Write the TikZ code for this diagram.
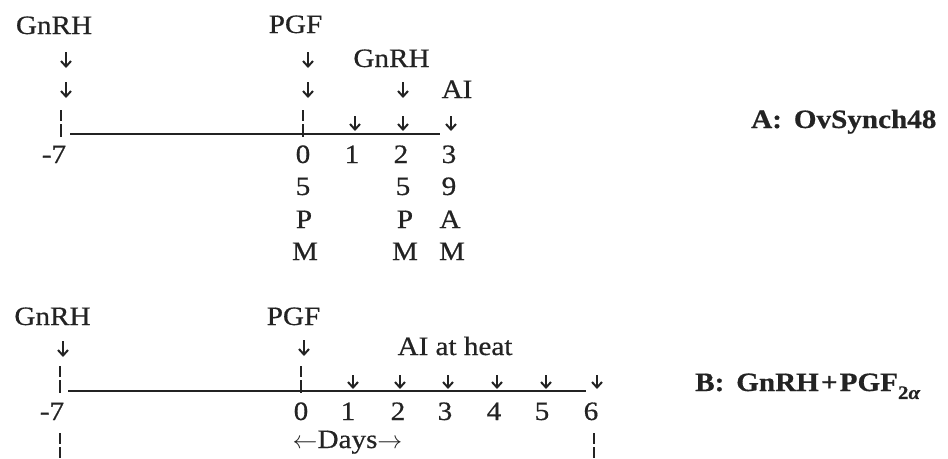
\documentclass[tikz,border=0pt]{standalone}
\usepackage{fontspec}
\setmainfont{Liberation Serif}[FakeStretch=1.1,FakeBold=0.6]
\usetikzlibrary{arrows.meta}
\definecolor{ink}{RGB}{35,35,35}
\begin{document}
\begin{tikzpicture}[x=1pt,y=-1pt,
  txt/.style={anchor=base, inner sep=0pt, text=ink, font=\fontsize{26.5}{30}\selectfont},
  lbl/.style={anchor=base west, inner sep=0pt, text=ink, font=\fontsize{26.5}{30}\selectfont\bfseries},
  darr/.style={draw=ink, line width=2pt, -{Straight Barb[length=5.5pt,width=10pt,line width=2pt]}},
  tickd/.style={draw=ink, line width=1.5pt, dash pattern=on 11pt off 3pt on 30pt},
  axisline/.style={draw=ink, line width=2pt}]
\useasboundingbox (0,0) rectangle (948,458);

% ---------- Panel A ----------
\node[txt] (gA1) at (54,34) {GnRH};
\node[txt] (pA)  at (295.5,33) {PGF};
\node[txt] (gA2) at (391.5,67) {GnRH};
\node[txt] (aiA) at (457,98) {AI};

\draw[darr] (66,52) -- (66,68);
\draw[darr] (66,82) -- (66,98);
\draw[darr] (308,52) -- (308,68);
\draw[darr] (308,82) -- (308,98);
\draw[darr] (403,82) -- (403,98);
\draw[darr] (355,116) -- (355,131);
\draw[darr] (403,116) -- (403,131);
\draw[darr] (451,116) -- (451,131);

\draw[tickd] (61,110) -- (61,137);
\draw[tickd] (303,110) -- (303,137);
\coordinate (As) at (70,134);
\coordinate (Ae) at (440,134);
\draw[axisline] (As) -- (Ae);

\node[txt] (aM7) at (54,163) {-7};
\node[txt] (a0) at (303,163) {0};
\node[txt] (a1) at (352,163) {1};
\node[txt] (a2) at (401,163) {2};
\node[txt] (a3) at (449,163) {3};

\node[txt] (c05) at (303,195) {5};
\node[txt] (c0P) at (304,228) {P};
\node[txt] (c0M) at (305,260) {M};
\node[txt] (c25) at (403,195) {5};
\node[txt] (c2P) at (405,228) {P};
\node[txt] (c2M) at (405,260) {M};
\node[txt] (c39) at (449,195) {9};
\node[txt] (c3A) at (450,228) {A};
\node[txt] (c3M) at (452,260) {M};

\node[lbl] (labA) at (751,128) {A:\hspace{0.45em}OvSynch48};

% ---------- Panel B ----------
\node[txt] (gB) at (52.5,325) {GnRH};
\node[txt] (pB) at (293.5,325) {PGF};
\node[txt] (aiB) at (455,355) {AI at heat};

\draw[darr] (63,341) -- (63,357);
\draw[darr] (304,340) -- (304,356);
\foreach \xx in {353,400,448,497,546,597}
  \draw[darr] (\xx,375) -- (\xx,389);

\draw[tickd] (60,366) -- (60,393);
\draw[tickd] (301,366) -- (301,393);
\coordinate (Bs) at (68,391);
\coordinate (Be) at (586,391);
\draw[axisline] (Bs) -- (Be);

\node[txt] (bM7) at (52,420) {-7};
\node[txt] (b0) at (301,420) {0};
\node[txt] (b1) at (348,420) {1};
\node[txt] (b2) at (398,420) {2};
\node[txt] (b3) at (445,420) {3};
\node[txt] (b4) at (494,420) {4};
\node[txt] (b5) at (542,420) {5};
\node[txt] (b6) at (591,420) {6};

\node[txt] (days) at (347.5,448) {$\leftarrow$Days$\rightarrow$};

\draw[draw=ink, line width=1.5pt, dash pattern=on 11pt off 3pt] (60,433) -- (60,460);
\draw[draw=ink, line width=1.5pt, dash pattern=on 11pt off 3pt] (594,433) -- (594,460);

\node[lbl] (labB) at (695,391) {B:\hspace{0.45em}GnRH\hspace{0.08em}+\hspace{0.08em}PGF\raisebox{-0.3em}{\fontsize{19}{19}\selectfont 2\textit{α}}};
\end{tikzpicture}
\end{document}
